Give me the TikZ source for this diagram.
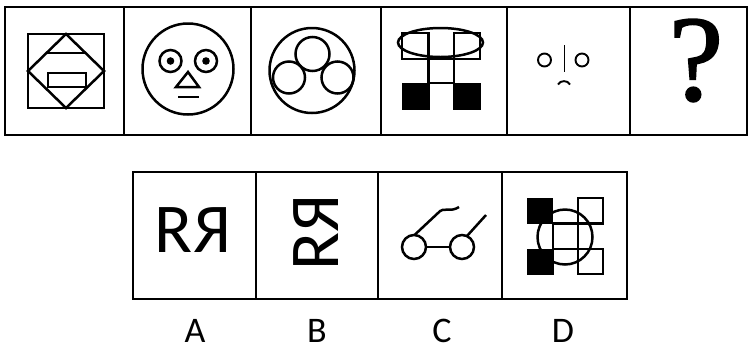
\documentclass[tikz,border=0pt]{standalone}
\usepackage{fontspec}
\newfontfamily\calfont{Carlito}
\newfontfamily\qfont[FakeBold=1.6]{Liberation Serif}
\usepackage{graphicx}
\begin{document}
\begin{tikzpicture}[x=1pt,y=-1pt]
\useasboundingbox (0,0) rectangle (749,349);
\tikzset{
  frame/.style={line width=2.6pt},
  shp/.style={line width=2.5pt},
  thin/.style={line width=1.9pt},
  lbl/.style={font=\calfont\fontsize{36}{36}\selectfont, anchor=base, inner sep=0pt},
  big/.style={font=\calfont\fontsize{70}{70}\selectfont, inner sep=0pt}
}
% top row frame
\draw[frame] (5,7) rectangle (747,135);
\foreach \x in {124,251,381,507,630} \draw[frame] (\x,7) -- (\x,135);
% bottom row frame
\draw[frame] (133,172) rectangle (627,299);
\foreach \x in {256,378,502} \draw[frame] (\x,172) -- (\x,299);

% cell 1
\draw[shp] (28,34) rectangle (104,108);
\draw[shp] (66,34) -- (104,71) -- (66,108) -- (28,71) -- cycle;
\draw[shp] (46.5,53) -- (85.5,53);
\draw[shp] (48,73) rectangle (86,87);

% cell 2: face
\draw[shp] (188,69) circle[radius=45.5];
\draw[shp] (170.5,61) circle[radius=11];
\draw[shp] (206,61) circle[radius=11];
\fill (170.5,61) circle[radius=3.8];
\fill (206,61) circle[radius=3.8];
\draw[shp] (188,72) -- (199,87) -- (176,87) -- cycle;
\draw[shp] (178,97) -- (199,97);

% cell 3: circles
\draw[shp] (312,70.5) circle[radius=42.5];
\draw[shp] (312.5,54) circle[radius=17];
\draw[shp] (289,77.5) circle[radius=16];
\draw[shp] (337.5,77.5) circle[radius=16];

% cell 4
\draw[shp] (402,33) rectangle (428.5,59);
\draw[shp] (454,33) rectangle (480,59);
\draw[shp] (428.5,59) rectangle (454,83);
\fill (402,83) rectangle (429.5,110);
\fill (453,83) rectangle (480.5,110);
\draw[shp] (440.5,42.5) ellipse[x radius=42.5, y radius=14.5];

% cell 5
\draw[thin] (544.5,60) circle[radius=6.5];
\draw[thin] (582,60) circle[radius=6.5];
\draw[thin] (564.5,45) -- (564.5,72);
\draw[thin] (558,84.5) .. controls (560,80) and (568,80) .. (570,84.5);

% cell 6
\node[font=\qfont\fontsize{122}{122}\selectfont, inner sep=0pt] (q) at (696,60.5) {?};

% options
\node[big] (ra) at (193,230.5) {R\reflectbox{R}};
\node[big, rotate=90] (rb) at (316.5,232.5) {R\reflectbox{R}};

% C: glasses
\draw[shp] (414,247) circle[radius=12];
\draw[shp] (462,247) circle[radius=12];
\draw[shp] (426,247) -- (450,247);
\draw[shp] (414.5,235) -- (438,213) .. controls (444,206) and (450,213) .. (459,207);
\draw[shp] (467,236) -- (486,215);

% D
\fill (527,198) rectangle (553,224);
\fill (527,249) rectangle (554,275);
\draw[shp] (578,198) rectangle (603,223.5);
\draw[shp] (578,249) rectangle (603,274);
\draw[shp] (553,223.5) rectangle (578,249);
\draw[shp] (565,237) circle[radius=27.5];

% labels
\node[lbl] (la) at (195,342) {A};
\node[lbl] (lb) at (317,342) {B};
\node[lbl] (lc) at (442,342) {C};
\node[lbl] (ld) at (563,342) {D};
\end{tikzpicture}
\end{document}
